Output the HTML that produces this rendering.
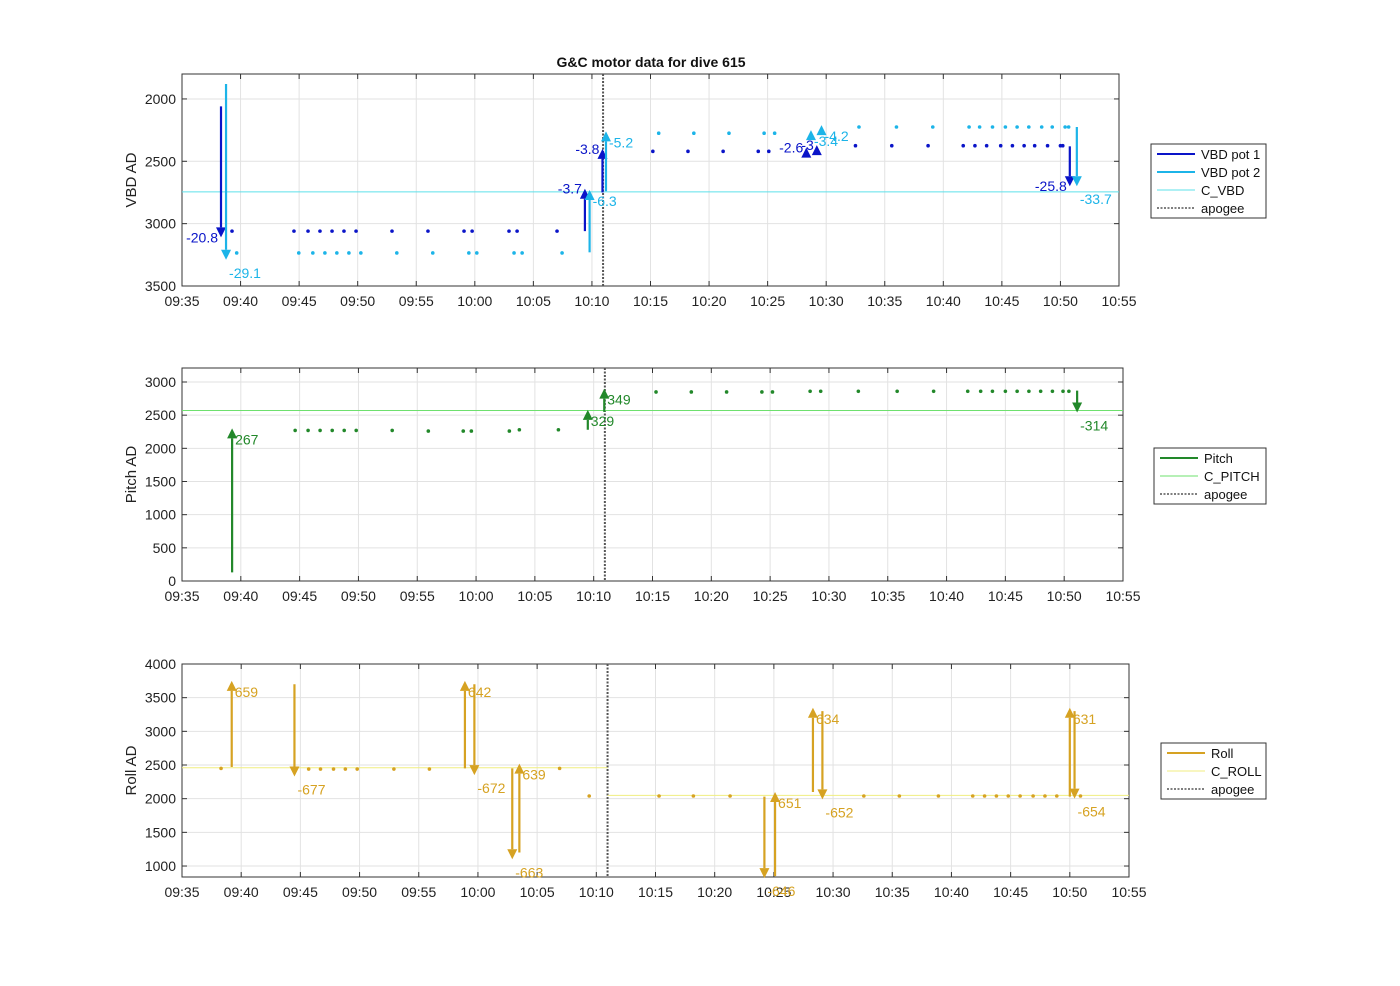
<!DOCTYPE html>
<html><head><meta charset="utf-8"><style>
body{margin:0;background:#fff;}
svg{display:block;font-family:"Liberation Sans",Arial,sans-serif;}
</style></head><body>
<svg id="chart" width="1400" height="986" viewBox="0 0 1400 986" xmlns="http://www.w3.org/2000/svg">
<rect width="1400" height="986" fill="#fff"/>
<text x="651" y="67" text-anchor="middle" font-size="14" font-weight="bold" fill="#111">G&amp;C motor data for dive 615</text>
</svg>
<script>
// ---- data (minutes after 09:35) ----
const xTickLabels = ["09:35","09:40","09:45","09:50","09:55","10:00","10:05","10:10","10:15","10:20","10:25","10:30","10:35","10:40","10:45","10:50","10:55"];
const apogeeMin = 35.95;

const vbdTicks = [2000,2500,3000,3500];
const pot1DotT = [4.27,9.56,10.76,11.78,12.81,13.83,14.86,17.93,21.0,24.08,24.77,27.92,28.61,32.02,40.2,43.2,46.2,49.2,50.1,57.5,60.6,63.7,66.7,67.7,68.7,69.9,70.9,71.9,72.8,73.9,75.0,75.2];
const pot1DotV = [3060,3060,3060,3060,3060,3060,3060,3060,3060,3060,3060,3060,3060,3060,2420,2420,2420,2420,2420,2375,2375,2375,2375,2375,2375,2375,2375,2375,2375,2375,2375,2375];
const pot2DotT = [4.67,9.97,11.17,12.2,13.22,14.25,15.27,18.34,21.41,24.49,25.17,28.35,29.04,32.45,40.7,43.7,46.7,49.7,50.6,57.8,61.0,64.1,67.2,68.1,69.2,70.3,71.3,72.3,73.4,74.3,75.4,75.7];
const pot2DotV = [3235,3235,3235,3235,3235,3235,3235,3235,3235,3235,3235,3235,3235,3235,2275,2275,2275,2275,2275,2225,2225,2225,2225,2225,2225,2225,2225,2225,2225,2225,2225,2225];
const pot1ArrT = [3.33,34.4,35.9,53.3,54.2,75.8];
const pot1ArrFrom = [2060,3060,2750,2400,2380,2380];
const pot1ArrTo = [3110,2720,2400,2390,2370,2700];
const pot1ArrLbl = ["-20.8","-3.7","-3.8","-2.6","-3","-25.8"];
const pot2ArrT = [3.76,34.8,36.2,53.7,54.6,76.4];
const pot2ArrFrom = [1880,3230,2740,2260,2220,2225];
const pot2ArrTo = [3290,2730,2260,2250,2210,2700];
const pot2ArrLbl = ["-29.1","-6.3","-5.2","-3.4","-4.2","-33.7"];
const cVbd = 2745;

const pitchTicks = [0,500,1000,1500,2000,2500,3000];
const pitchDotT = [9.62,10.72,11.74,12.77,13.79,14.81,17.87,20.94,23.91,24.6,27.83,28.68,32.0,40.3,43.3,46.3,49.3,50.2,53.4,54.3,57.5,60.8,63.9,66.8,67.9,68.9,70.0,71.0,72.0,73.0,74.0,74.9,75.4];
const pitchDotV = [2270,2270,2270,2270,2270,2270,2270,2260,2260,2260,2260,2280,2280,2850,2850,2850,2850,2850,2860,2860,2860,2860,2860,2860,2860,2860,2860,2860,2860,2860,2860,2860,2860];
const pitchArrT = [4.26,34.5,35.9,76.1];
const pitchArrFrom = [130,2280,2550,2870];
const pitchArrTo = [2300,2580,2900,2540];
const pitchArrLbl = ["267","329","349","-314"];
const cPitch = 2570;

const rollTicks = [1000,1500,2000,2500,3000,3500,4000];
const rollDotT = [3.3,10.7,11.7,12.8,13.8,14.8,17.9,20.9,31.9,34.4,40.3,43.2,46.3,57.6,60.6,63.9,66.8,67.8,68.8,69.8,70.8,71.9,72.9,73.9,75.9];
const rollDotV = [2450,2440,2440,2440,2440,2440,2440,2440,2450,2040,2040,2040,2040,2040,2040,2040,2040,2040,2040,2040,2040,2040,2040,2040,2040];
const rollArrT = [4.2,9.5,23.9,24.7,27.9,28.5,49.2,50.1,53.3,54.1,75.0,75.4];
const rollArrFrom = [2470,3700,2450,3700,2450,1200,2030,850,2100,3300,2030,3300];
const rollArrTo = [3750,2330,3750,2350,1100,2520,820,2100,3350,1990,3350,2000];
const rollArrLbl = ["659","-677","642","-672","-663","639","-646","651","634","-652","631","-654"];
const cRollBefore = 2460, cRollAfter = 2050;

// ---- drawing ----
const svg = document.getElementById('chart');
const NS = 'http://www.w3.org/2000/svg';
function mk(tag, attrs, parent){const e=document.createElementNS(NS,tag);for(const k in attrs)e.setAttribute(k,attrs[k]);(parent||svg).appendChild(e);return e;}

function panel(name, L, R, T, B, yMin, yMax, reversed, ticks, yTitle){
  const g = mk('g',{});
  
  
  const X = m => L + m/80*(R-L);
  const Y = v => reversed ? T + (v-yMin)/(yMax-yMin)*(B-T) : B - (v-yMin)/(yMax-yMin)*(B-T);
  mk('rect',{x:L,y:T,width:R-L,height:B-T,fill:'#fff'},g);
  xTickLabels.forEach((lab,i)=>{
    const x = X(i*5);
    mk('line',{x1:x,x2:x,y1:T,y2:B,stroke:'#e2e2e2','stroke-width':1},g);
    mk('line',{x1:x,x2:x,y1:B,y2:B-5,stroke:'#333'},g);
    mk('line',{x1:x,x2:x,y1:T,y2:T+5,stroke:'#333'},g);
    const tx = mk('text',{x:x,y:B+20,'text-anchor':'middle','font-size':14,fill:'#222'},g);
    tx.textContent = lab;
    
    
  });
  ticks.forEach(v=>{
    const y = Y(v);
    mk('line',{x1:L,x2:R,y1:y,y2:y,stroke:'#e2e2e2'},g);
    mk('line',{x1:L,x2:L+5,y1:y,y2:y,stroke:'#333'},g);
    mk('line',{x1:R,x2:R-5,y1:y,y2:y,stroke:'#333'},g);
    const ty = mk('text',{x:L-6,y:y+5,'text-anchor':'end','font-size':14,fill:'#222'},g);
    ty.textContent = v;
    
    
  });
  mk('rect',{x:L,y:T,width:R-L,height:B-T,fill:'none',stroke:'#333','stroke-width':1},g);
  const yt = mk('text',{x:0,y:0,'text-anchor':'middle','font-size':15,fill:'#222',transform:'translate('+(L-46)+','+((T+B)/2)+') rotate(-90)'},g);
  yt.textContent = yTitle;
  
  
  const ap = mk('line',{x1:X(apogeeMin),x2:X(apogeeMin),y1:T,y2:B,stroke:'#555','stroke-width':2,'stroke-dasharray':'2,1.5'},g);
  
  
  return {g:g,X:X,Y:Y};
}

function dots(p, ts, vs, color, name){
  ts.forEach((tm,i)=>{
    const c = mk('circle',{cx:p.X(tm),cy:p.Y(vs[i]),r:1.8,fill:color},p.g);
    
    
  });
}
function arrows(p, ts, from, to, lbls, color, name, side){
  ts.forEach((tm,i)=>{
    const x = p.X(tm), y1 = p.Y(from[i]), y2 = p.Y(to[i]);
    const dir = y2 < y1 ? -1 : 1;
    const hy = y2 - dir*10;
    const a = mk('g',{},p.g);
    
    
    if (Math.abs(y2-y1) > 10) mk('line',{x1:x,x2:x,y1:y1,y2:hy,stroke:color,'stroke-width':2.2},a);
    mk('polygon',{points:(x-5)+','+hy+' '+(x+5)+','+hy+' '+x+','+y2,fill:color},a);
    const lbl = mk('text',{'font-size':14,fill:color},a);
    if (side==='l'){ lbl.setAttribute('x',x-3); lbl.setAttribute('y',y2+5); lbl.setAttribute('text-anchor','end'); }
    else { lbl.setAttribute('x',x+3); lbl.setAttribute('y', dir<0 ? y2+16 : y2+18); }
    lbl.textContent = lbls[i];
  });
}
function hline(p, v, m1, m2, color, name){
  const l = mk('line',{x1:p.X(m1),x2:p.X(m2),y1:p.Y(v),y2:p.Y(v),stroke:color,'stroke-width':1},p.g);
  
  
}
function legend(x,y,w,entries,name){
  const g = mk('g',{});
  
  
  mk('rect',{x:x,y:y,width:w,height:entries.length*18+2,fill:'#fff',stroke:'#333'},g);
  entries.forEach((e,i)=>{
    const cy = y+10+i*18;
    mk('line',{x1:x+6,x2:x+44,y1:cy,y2:cy,stroke:e[1],'stroke-width':e[2],'stroke-dasharray':e[3]||'none'},g);
    const lt = mk('text',{x:x+50,y:cy+5,'font-size':13,fill:'#111'},g);
    lt.textContent = e[0];
    
    
  });
}

const P1 = '#0a14c8', P2 = '#1cb4e8', CV = '#5ee0ea';
const pan1 = panel('vbd', 182, 1119, 74, 286, 1800, 3500, true, vbdTicks, 'VBD AD');
hline(pan1, cVbd, 0, 80, CV, 'c-vbd-line');
dots(pan1, pot1DotT, pot1DotV, P1, 'vbd-pot1-point');
dots(pan1, pot2DotT, pot2DotV, P2, 'vbd-pot2-point');
arrows(pan1, pot1ArrT, pot1ArrFrom, pot1ArrTo, pot1ArrLbl, P1, 'vbd-pot1-arrow', 'l');
arrows(pan1, pot2ArrT, pot2ArrFrom, pot2ArrTo, pot2ArrLbl, P2, 'vbd-pot2-arrow', 'r');
legend(1151,144,115,[['VBD pot 1',P1,2],['VBD pot 2',P2,2],['C_VBD',CV,1],['apogee','#555',1.5,'2,1.5']],'vbd-legend');

const PG = '#22882a', CP = '#6ee06e';
const pan2 = panel('pitch', 182, 1123, 368, 581, 0, 3211, false, pitchTicks, 'Pitch AD');
hline(pan2, cPitch, 0, 80, CP, 'c-pitch-line');
dots(pan2, pitchDotT, pitchDotV, PG, 'pitch-point');
arrows(pan2, pitchArrT, pitchArrFrom, pitchArrTo, pitchArrLbl, PG, 'pitch-arrow', 'r');
legend(1154,448,112,[['Pitch',PG,2],['C_PITCH',CP,1],['apogee','#555',1.5,'2,1.5']],'pitch-legend');

const RG = '#d6a222', CR = '#f0ee80';
const pan3 = panel('roll', 182, 1129, 664, 877, 837, 4000, false, rollTicks, 'Roll AD');
hline(pan3, cRollBefore, 0, apogeeMin, CR, 'c-roll-line');
hline(pan3, cRollAfter, apogeeMin, 80, CR, 'c-roll-line');
dots(pan3, rollDotT, rollDotV, RG, 'roll-point');
arrows(pan3, rollArrT, rollArrFrom, rollArrTo, rollArrLbl, RG, 'roll-arrow', 'r');
legend(1161,743,105,[['Roll',RG,2],['C_ROLL',CR,1],['apogee','#555',1.5,'2,1.5']],'roll-legend');
</script>
</body></html>
